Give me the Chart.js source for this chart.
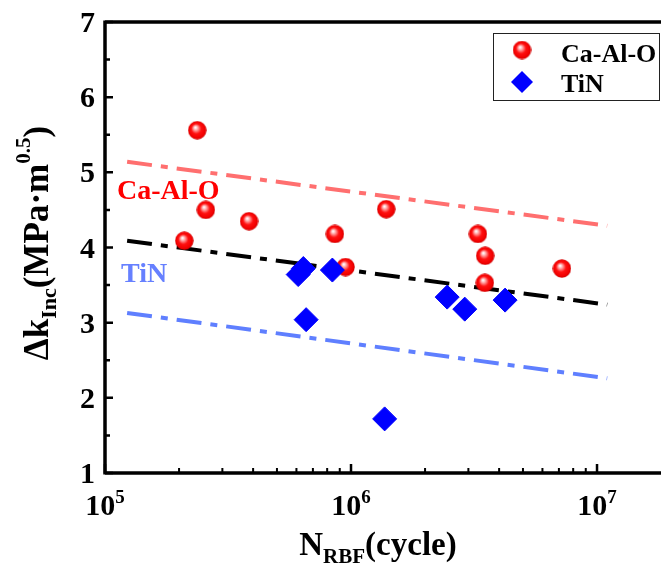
<!DOCTYPE html>
<html>
<head>
<meta charset="UTF-8">
<title>Δk_Inc vs N_RBF</title>
<script src="https://cdn.jsdelivr.net/npm/chart.js"></script>
<style>
  html, body { margin: 0; padding: 0; background: #fff; overflow: hidden; }
  #wrap { width: 661px; height: 567px; }
</style>
</head>
<body>
<div id="wrap"><canvas id="chart" width="661" height="567"></canvas></div>
<script>
// data
const caAlO_N  = [2.1e5, 2.37e5, 2.57e5, 3.85e5, 8.6e5, 9.5e5, 1.39e6, 3.28e6, 3.51e6, 3.5e6, 7.2e6];
const caAlO_dk = [4.09, 5.56, 4.50, 4.35, 4.18, 3.74, 4.51, 4.18, 3.89, 3.53, 3.72];
const tin_N  = [6.1e5, 6.4e5, 6.57e5, 8.4e5, 1.37e6, 2.46e6, 2.9e6, 4.23e6];
const tin_dk = [3.64, 3.72, 3.04, 3.70, 1.72, 3.34, 3.18, 3.30];

// dash-dot trend lines
const fitN      = [1.23e5, 1.1e7];
const fitCaAlO  = [5.14, 4.29];
const fitAll    = [4.09, 3.24];
const fitTiN    = [3.13, 2.26];

const xMajor = [1e5, 1e6, 1e7];
const xMajorExp = ['5', '6', '7'];
const xMinorMult = [2, 3, 4, 5, 6, 7, 8, 9];
const yMajor = [1, 2, 3, 4, 5, 6, 7];
const yMinor = [1.5, 2.5, 3.5, 4.5, 5.5, 6.5];

const FONT = '"Liberation Serif", "Times New Roman", serif';

function pts(xs, ys) { return xs.map((x, i) => ({ x: x, y: ys[i] })); }

function makeSphere(d) {
  const c = document.createElement('canvas');
  c.width = d; c.height = d;
  const g = c.getContext('2d');
  const r = d / 2;
  const grad = g.createRadialGradient(r * 0.8, r * 0.7, r * 0.05, r, r, r);
  grad.addColorStop(0, '#ffffff');
  grad.addColorStop(0.22, '#ff9a9a');
  grad.addColorStop(0.5, '#ff1010');
  grad.addColorStop(0.85, '#f00000');
  grad.addColorStop(1, '#c00000');
  g.fillStyle = grad;
  g.beginPath(); g.arc(r, r, r - 0.3, 0, Math.PI * 2); g.fill();
  return c;
}
const sphere = makeSphere(19);

// draws runs of text (main / sub / sup) starting at x on baseline y
function runs(ctx, parts, x, y, align) {
  let total = 0;
  parts.forEach(p => { ctx.font = 'bold ' + p.size + 'px ' + FONT; p.w = ctx.measureText(p.t).width; total += p.w; });
  let cx = align === 'center' ? x - total / 2 : x;
  ctx.textAlign = 'left';
  ctx.textBaseline = 'alphabetic';
  parts.forEach(p => {
    ctx.font = 'bold ' + p.size + 'px ' + FONT;
    ctx.fillText(p.t, cx, y + (p.dy || 0));
    cx += p.w;
  });
}

const frame = {
  id: 'frame',
  afterDatasetsDraw(chart) {
    const ctx = chart.ctx, a = chart.chartArea;
    const xs = chart.scales.x, ys = chart.scales.y;
    ctx.save();
    ctx.strokeStyle = '#000';
    ctx.lineCap = 'butt';
    // axes (right side runs off the picture)
    ctx.lineWidth = 3.5;
    ctx.beginPath();
    ctx.moveTo(a.left, a.bottom); ctx.lineTo(a.right + 5, a.bottom);
    ctx.moveTo(a.left, a.top); ctx.lineTo(a.right + 5, a.top);
    ctx.moveTo(a.left, a.top - 1.5); ctx.lineTo(a.left, a.bottom + 1.5);
    ctx.stroke();
    // y ticks (inward)
    ctx.lineWidth = 2.5;
    ctx.beginPath();
    yMajor.forEach(v => { const p = ys.getPixelForValue(v); ctx.moveTo(a.left, p); ctx.lineTo(a.left + 8, p); });
    yMinor.forEach(v => { const p = ys.getPixelForValue(v); ctx.moveTo(a.left, p); ctx.lineTo(a.left + 5, p); });
    // x ticks (inward)
    xMajor.forEach(v => { const p = xs.getPixelForValue(v); ctx.moveTo(p, a.bottom); ctx.lineTo(p, a.bottom - 9); });
    ctx.stroke();
    ctx.lineWidth = 2;
    ctx.beginPath();
    xMajor.forEach(d => xMinorMult.forEach(m => {
      const v = d * m;
      if (v > xs.max) return;
      const p = xs.getPixelForValue(v);
      ctx.moveTo(p, a.bottom); ctx.lineTo(p, a.bottom - 5);
    }));
    ctx.stroke();

    // tick labels
    ctx.fillStyle = '#000';
    ctx.font = 'bold 30px ' + FONT;
    ctx.textAlign = 'right';
    ctx.textBaseline = 'alphabetic';
    yMajor.forEach(v => ctx.fillText(String(v), 95, ys.getPixelForValue(v) + 10));
    xMajor.forEach((v, i) => {
      runs(ctx, [{ t: '10', size: 30 }, { t: xMajorExp[i], size: 19, dy: -12 }], xs.getPixelForValue(v), 515, 'center');
    });

    // axis titles
    runs(ctx, [{ t: 'N', size: 33 }, { t: 'RBF', size: 21, dy: 8 }, { t: '(cycle)', size: 33 }], 378, 555, 'center');
    ctx.save();
    ctx.translate(48, 243);
    ctx.rotate(-Math.PI / 2);
    runs(ctx, [{ t: 'Δk', size: 35 }, { t: 'Inc', size: 22, dy: 8 }, { t: '(MPa·m', size: 35 },
               { t: '0.5', size: 21, dy: -18 }, { t: ')', size: 35 }], 0, 0, 'center');
    ctx.restore();

    // in-plot labels
    ctx.fillStyle = '#ff0000';
    runs(ctx, [{ t: 'Ca-Al-O', size: 28 }], 117, 199, 'left');
    ctx.fillStyle = '#6680ff';
    runs(ctx, [{ t: 'TiN', size: 28 }], 121, 282, 'left');

    // legend
    ctx.strokeStyle = '#222';
    ctx.lineWidth = 1;
    ctx.fillStyle = '#fff';
    ctx.fillRect(493.5, 33.5, 166, 67);
    ctx.strokeRect(493.5, 33.5, 166, 67);
    ctx.drawImage(sphere, 522 - 9.5, 50 - 9.5);
    ctx.fillStyle = '#0000ff';
    ctx.beginPath();
    ctx.moveTo(522, 71); ctx.lineTo(533, 82); ctx.lineTo(522, 93); ctx.lineTo(511, 82); ctx.closePath();
    ctx.fill();
    ctx.fillStyle = '#000';
    runs(ctx, [{ t: chart.data.datasets[0].label, size: 26 }], 561, 62, 'left');
    runs(ctx, [{ t: chart.data.datasets[1].label, size: 26 }], 561, 92, 'left');
    ctx.restore();
  }
};

new Chart(document.getElementById('chart'), {
  type: 'scatter',
  data: {
    datasets: [
      { label: 'Ca-Al-O', data: pts(caAlO_N, caAlO_dk), pointStyle: sphere, pointRadius: 10, order: 2 },
      { label: 'TiN', data: pts(tin_N, tin_dk), pointStyle: 'rectRot', pointRadius: 12,
        backgroundColor: '#0000ff', borderColor: '#0000ff', borderWidth: 1, order: 1 },
      { label: 'fit Ca-Al-O', data: pts(fitN, fitCaAlO), showLine: true, pointRadius: 0,
        borderColor: '#ff6f6f', borderWidth: 4, borderDash: [25, 9, 7, 9], order: 3 },
      { label: 'fit all', data: pts(fitN, fitAll), showLine: true, pointRadius: 0,
        borderColor: '#000000', borderWidth: 4, borderDash: [25, 9, 7, 9], order: 3 },
      { label: 'fit TiN', data: pts(fitN, fitTiN), showLine: true, pointRadius: 0,
        borderColor: '#5f7fff', borderWidth: 4, borderDash: [25, 9, 7, 9], order: 3 }
    ]
  },
  options: {
    responsive: false,
    animation: false,
    layout: { autoPadding: false, padding: { left: 105, top: 22, right: 0, bottom: 94 } },
    scales: {
      x: { type: 'logarithmic', min: 1e5, max: 1.82e7, display: false },
      y: { type: 'linear', min: 1, max: 7, display: false }
    },
    plugins: { legend: { display: false }, tooltip: { enabled: false } }
  },
  plugins: [frame]
});
</script>
</body>
</html>
